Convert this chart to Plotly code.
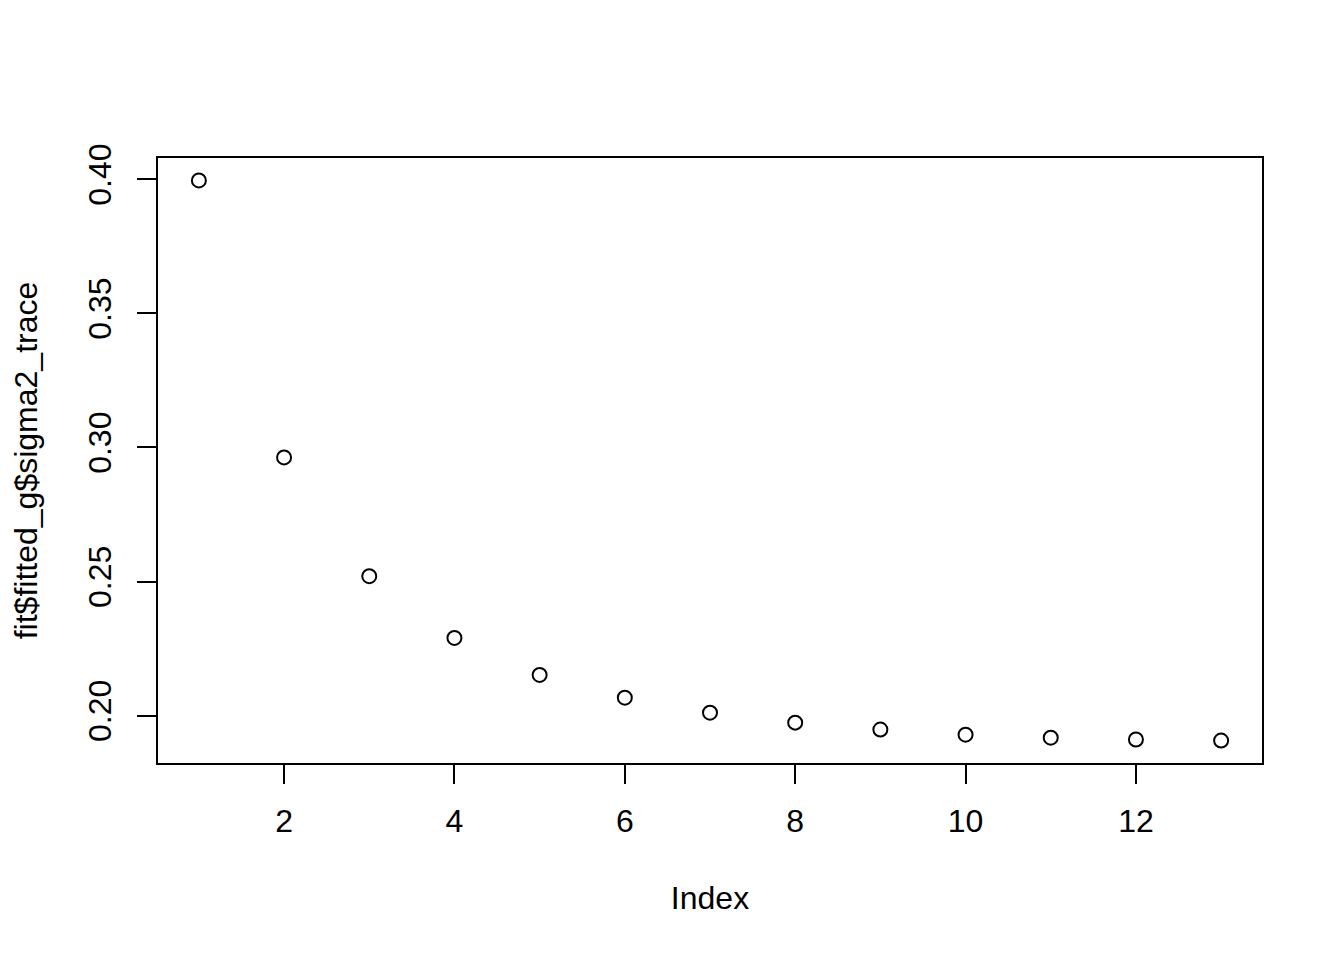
import plotly.graph_objects as go

# sigma2 trace values
index = list(range(1, 14))
sigma2_trace = [0.3996, 0.2963, 0.2520, 0.2290, 0.2152, 0.2067, 0.2011,
                0.1974, 0.1948, 0.1929, 0.1918, 0.1911, 0.1907]

x_ticks = [2, 4, 6, 8, 10, 12]
y_ticks = [0.20, 0.25, 0.30, 0.35, 0.40]

FONT = "Liberation Sans, Arial, Helvetica, sans-serif"
FSIZE = 32

fig = go.Figure()
fig.add_trace(go.Scatter(
    x=index,
    y=sigma2_trace,
    mode="markers",
    marker=dict(symbol="circle-open", size=14, color="black",
                line=dict(width=2, color="black")),
    showlegend=False,
    hoverinfo="x+y",
))

# R pads the data range by 4% each side
x_pad = (max(index) - min(index)) * 0.04
y_pad = (max(sigma2_trace) - min(sigma2_trace)) * 0.04

axis_common = dict(
    showgrid=False,
    zeroline=False,
    showline=True,
    linecolor="black",
    linewidth=2,
    mirror=True,
    ticks="outside",
    ticklen=19,
    tickwidth=2,
    tickcolor="black",
    tickfont=dict(family=FONT, size=FSIZE, color="black"),
)

fig.update_xaxes(
    range=[min(index) - x_pad, max(index) + x_pad],
    tickvals=x_ticks,
    ticktext=[str(v) for v in x_ticks],
    ticklabelstandoff=10,
    title=dict(text="Index", font=dict(family=FONT, size=FSIZE, color="black"),
               standoff=48),
    **axis_common,
)
fig.update_yaxes(
    range=[min(sigma2_trace) - y_pad, max(sigma2_trace) + y_pad],
    tickvals=y_ticks,
    ticktext=[f"{v:.2f}" for v in y_ticks],
    tickangle=-90,
    ticklabelstandoff=13,
    title=dict(text="fit$fitted_g$sigma2_trace",
               font=dict(family=FONT, size=FSIZE, color="black"),
               standoff=40),
    **axis_common,
)

# page body adds an 8px offset, so the figure is a bit smaller than the window
fig.update_layout(
    width=1336,
    height=952,
    margin=dict(l=148, r=82, t=150, b=197),
    paper_bgcolor="white",
    plot_bgcolor="white",
    font=dict(family=FONT, color="black"),
)

fig.write_html("out.html")
